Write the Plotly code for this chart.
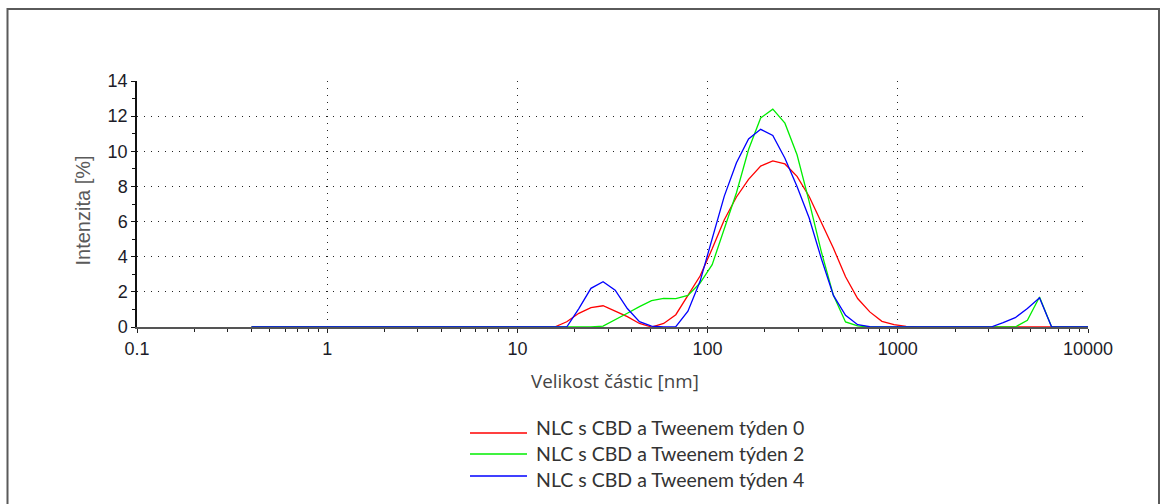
import plotly.graph_objects as go

# Size classes (nm) of the DLS intensity distribution
size_nm = [0.4, 0.4632, 0.5365, 0.6213, 0.7195, 0.8332, 0.9649, 1.117, 1.294, 1.499,
           1.736, 2.01, 2.328, 2.696, 3.122, 3.615, 4.187, 4.849, 5.615, 6.503,
           7.531, 8.721, 10.1, 11.7, 13.54, 15.69, 18.17, 21.04, 24.36, 28.21,
           32.67, 37.84, 43.82, 50.75, 58.77, 68.06, 78.82, 91.28, 105.7, 122.4,
           141.8, 164.2, 190.1, 220.2, 255.0, 295.3, 342.0, 396.1, 458.7, 531.2,
           615.1, 712.4, 825.0, 955.4, 1106, 1281, 1484, 1718, 1990, 2305,
           2669, 3091, 3580, 4145, 4801, 5560, 6439, 7456, 8635, 10000]

# Intensity (%) per size class
week0 = [0, 0, 0, 0, 0, 0, 0, 0, 0, 0,
         0, 0, 0, 0, 0, 0, 0, 0, 0, 0,
         0, 0, 0, 0, 0, 0, 0.3, 0.78, 1.1, 1.21,
         0.9, 0.59, 0.2, 0.0, 0.2, 0.7, 1.8, 2.9, 4.45, 6.1,
         7.4, 8.4, 9.16, 9.45, 9.28, 8.57, 7.43, 6.0, 4.48, 2.86,
         1.62, 0.86, 0.32, 0.13, 0.04, 0, 0, 0, 0, 0,
         0, 0, 0, 0, 0, 0, 0, 0, 0, 0]

week2 = [0, 0, 0, 0, 0, 0, 0, 0, 0, 0,
         0, 0, 0, 0, 0, 0, 0, 0, 0, 0,
         0, 0, 0, 0, 0, 0, 0, 0, 0, 0.05,
         0.4, 0.78, 1.16, 1.5, 1.63, 1.62, 1.8, 2.5, 3.55, 5.55,
         7.64, 10.1, 11.9, 12.4, 11.6, 9.8, 7.14, 4.29, 1.8, 0.29,
         0.06, 0, 0, 0, 0, 0, 0, 0, 0, 0,
         0, 0, 0, 0, 0.38, 1.71, 0, 0, 0, 0]

week4 = [0, 0, 0, 0, 0, 0, 0, 0, 0, 0,
         0, 0, 0, 0, 0, 0, 0, 0, 0, 0,
         0, 0, 0, 0, 0, 0, 0, 1.05, 2.2, 2.58,
         2.1, 1.05, 0.3, 0.05, 0, 0.02, 0.9, 2.6, 5.0, 7.45,
         9.35, 10.7, 11.25, 10.9, 9.6, 8.0, 6.2, 3.9, 1.8, 0.67,
         0.13, 0.02, 0, 0, 0, 0, 0, 0, 0, 0,
         0, 0, 0.25, 0.53, 1.05, 1.66, 0, 0, 0, 0]

series_names = ["NLC s CBD a Tweenem týden 0",
                "NLC s CBD a Tweenem týden 2",
                "NLC s CBD a Tweenem týden 4"]
series_values = [week0, week2, week4]
series_colors = ["#ff0000", "#00ee00", "#0000ff"]

x_tick_vals = [0.1, 1, 10, 100, 1000, 10000]
x_tick_text = ["0.1", "1", "10", "100", "1000", "10000"]
y_tick_vals = [0, 2, 4, 6, 8, 10, 12, 14]

# plot area in pixels
L, R, T, B = 137, 1088, 81, 327
W, H = 1165, 504
PW, PH = R - L, B - T


def px(xp):
    return (xp - L) / PW


def py(yp):
    return (B - yp) / PH


fig = go.Figure()
for name, vals, col in zip(series_names, series_values, series_colors):
    fig.add_trace(go.Scatter(x=size_nm, y=vals, mode="lines", name=name,
                             line=dict(color=col, width=1.3), showlegend=False))

grid_dash = "1px,6px"
tick_font = dict(family="Liberation Sans, Arial", size=18, color="#1c1c28")

fig.update_layout(
    xaxis=dict(type="log", range=[-1, 4], tickvals=x_tick_vals, ticktext=x_tick_text,
               showgrid=True, gridcolor="#222222", gridwidth=1, griddash=grid_dash,
               showline=True, linecolor="#555555", linewidth=2,
               ticks="outside", ticklen=4, tickcolor="#222222", tickwidth=1,
               minor=dict(dtick="D1", ticks="outside", ticklen=3, tickcolor="#222222",
                          showgrid=False),
               tickfont=tick_font, zeroline=False),
    yaxis=dict(range=[0, 14], tickvals=y_tick_vals,
               showgrid=True, gridcolor="#222222", gridwidth=1, griddash=grid_dash,
               showline=True, linecolor="#111111", linewidth=1.5,
               ticks="outside", ticklen=4, tickcolor="#111111", tickwidth=1,
               minor=dict(dtick=1, ticks="outside", ticklen=3, tickcolor="#111111",
                          showgrid=False),
               tickfont=tick_font, zeroline=False),
    # companion axes supplying the inner half of the crossing tick marks
    xaxis2=dict(type="log", range=[-1, 4], overlaying="x", anchor="y", side="bottom",
                tickvals=x_tick_vals, showticklabels=False, showgrid=False,
                showline=False, zeroline=False,
                ticks="inside", ticklen=4, tickcolor="#222222", tickwidth=1,
                minor=dict(dtick="D1", ticks="inside", ticklen=3, tickcolor="#222222",
                           showgrid=False)),
    yaxis2=dict(range=[0, 14], overlaying="y", anchor="x", side="left",
                tickvals=y_tick_vals, showticklabels=False, showgrid=False,
                showline=False, zeroline=False,
                ticks="inside", ticklen=4, tickcolor="#111111", tickwidth=1,
                minor=dict(dtick=1, ticks="inside", ticklen=3, tickcolor="#111111",
                           showgrid=False)),
)

annotations = [
    dict(text="Intenzita [%]", x=px(82.5), y=py(211), xref="paper", yref="paper",
         textangle=-90, showarrow=False, xanchor="center", yanchor="middle",
         font=dict(family="Liberation Sans, Arial", size=20, color="#5a5a5a")),
    dict(text="Velikost částic [nm]", x=px(615), y=py(381), xref="paper", yref="paper",
         showarrow=False, xanchor="center", yanchor="middle",
         font=dict(family="Open Sans", size=18.8, color="#444444")),
]

shapes = [
    # outer frame
    dict(type="rect", xref="paper", yref="paper",
         x0=px(7.5), x1=px(1159), y0=py(520), y1=py(9),
         line=dict(color="#5a5a5a", width=2), fillcolor="rgba(0,0,0,0)", layer="below"),
]

# legend rows: line sample + label
line_rows = [433, 454, 476]
text_rows = [427, 453.5, 479]
for name, col, ly, ty in zip(series_names, series_colors, line_rows, text_rows):
    shapes.append(dict(type="line", xref="paper", yref="paper",
                       x0=px(470), x1=px(527), y0=py(ly), y1=py(ly),
                       line=dict(color=col, width=1.3)))
    annotations.append(dict(text=name, x=px(534), y=py(ty), xref="paper", yref="paper",
                            showarrow=False, xanchor="left", yanchor="middle",
                            font=dict(family="Lato", size=19.5, color="#333333")))

fig.update_layout(width=W, height=H,
                  margin=dict(l=L, r=W - R, t=T, b=H - B, pad=0),
                  paper_bgcolor="white", plot_bgcolor="white",
                  annotations=annotations, shapes=shapes, showlegend=False)

fig.write_html("out.html")
